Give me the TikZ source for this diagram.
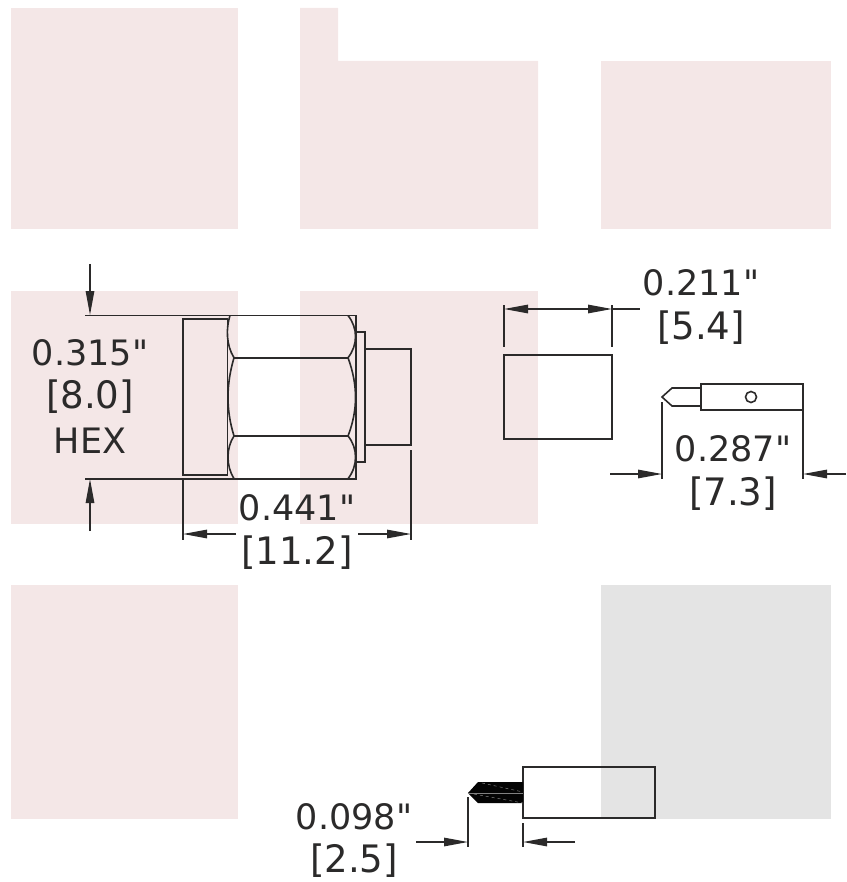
\documentclass[tikz,border=0pt]{standalone}
\usepackage{fontspec}
\setmainfont{DejaVu Sans}[Ligatures=TeXOff]
\usetikzlibrary{arrows.meta}
\definecolor{pinkbg}{HTML}{F4E7E7}
\definecolor{graybg}{HTML}{E4E4E4}
\definecolor{ink}{HTML}{2B2A2A}
\newcommand{\brk}[1]{\scalebox{1.06}[1.08]{#1}}
\tikzset{
  bgpink/.style={fill=pinkbg,draw=none},
  bggray/.style={fill=graybg,draw=none},
  part/.style={draw=ink,line width=1.6pt,line join=miter},
  extline/.style={draw=ink,line width=1.3pt},
  dimarrow/.style={draw=ink,line width=1.3pt,-{Triangle[length=24pt,width=8.5pt,fill=ink]}},
  dimtext/.style={font=\fontsize{35}{35}\selectfont,text=ink,inner sep=0pt,anchor=center}
}
\begin{document}
\begin{tikzpicture}[x=1pt,y=-1pt]
\useasboundingbox (0,0) rectangle (846,882);
% backgrounds
\fill[bgpink] (11,8) rectangle (238,229);
\fill[bgpink] (300,8) -- (338,8) -- (338,61) -- (538,61) -- (538,229) -- (300,229) -- cycle;
\fill[bgpink] (601,61) rectangle (831,229);
\fill[bgpink] (11,291) rectangle (238,524);
\fill[bgpink] (300,291) rectangle (538,524);
\fill[bgpink] (11,585) rectangle (238,819);
\fill[bggray] (601,585) rectangle (831,819);
% hex connector
\draw[part] (183,319) rectangle (227.5,475);
\draw[part] (85,315.5) -- (356,315.5) -- (356,478.7) -- (85,478.7);
\draw[part] (234,357.7) -- (348,357.7);
\draw[part] (234,436) -- (348,436);
\draw[part] (230,315.5) .. controls (226,328) and (226,345) .. (234,357.7)
  .. controls (226,385) and (226,410) .. (234,436)
  .. controls (226,448) and (226,466) .. (234,478.7);
\draw[part] (348,315.5) .. controls (358,328) and (358,345) .. (348,357.7)
  .. controls (358,385) and (358,410) .. (348,436)
  .. controls (358,448) and (358,466) .. (348,478.7);
\draw[part] (356,332) -- (365,332) -- (365,462) -- (356,462);
\draw[part] (365,349) -- (411,349) -- (411,445) -- (365,445);
% hex dimension
\coordinate (hexTopTail) at (90,264);
\coordinate (hexTopTip) at (90,315);
\coordinate (hexBotTail) at (90,531);
\coordinate (hexBotTip) at (90,479);
\draw[dimarrow] (hexTopTail) -- (hexTopTip);
\draw[dimarrow] (hexBotTail) -- (hexBotTip);
\node[dimtext] (t315) at (90,353) {0.315"};
\node[dimtext] (t80) at (90,397) {\brk{[8.0]}};
\node[dimtext] (thex) at (90,441) {HEX};
% length dimension
\coordinate (lenLa) at (183,480);
\coordinate (lenLb) at (183,540);
\coordinate (lenRa) at (411,450);
\coordinate (lenRb) at (411,540);
\draw[extline] (lenLa) -- (lenLb);
\draw[extline] (lenRa) -- (lenRb);
\coordinate (lenLtail) at (236,534);
\coordinate (lenLtip) at (183,534);
\coordinate (lenRtail) at (358,534);
\coordinate (lenRtip) at (411,534);
\draw[dimarrow] (lenLtail) -- (lenLtip);
\draw[dimarrow] (lenRtail) -- (lenRtip);
\node[dimtext] (t441) at (297,508) {0.441"};
\node[dimtext] (t112) at (297,553) {\brk{[11.2]}};
% block
\draw[part] (504,355) rectangle (612,439);
\coordinate (wLa) at (504,305);
\coordinate (wLb) at (504,347);
\coordinate (wRa) at (612,305);
\coordinate (wRb) at (612,347);
\draw[extline] (wLa) -- (wLb);
\draw[extline] (wRa) -- (wRb);
\coordinate (wTipL) at (504,309);
\coordinate (wTipR) at (612,309);
\coordinate (wEnd) at (640,309);
\draw[draw=ink,line width=1.3pt,{Triangle[length=24pt,width=8.5pt,fill=ink]}-{Triangle[length=24pt,width=8.5pt,fill=ink]}] (wTipL) -- (wTipR);
\draw[extline] (wTipR) -- (wEnd);
\node[dimtext] (t211) at (701,283) {0.211"};
\node[dimtext] (t54) at (701,328) {\brk{[5.4]}};
% pin
\draw[part] (701,384) rectangle (803,410);
\draw[part] (701,388) -- (672,388) -- (662,397) -- (672,406) -- (701,406);
\draw[part] (751,397) circle (5.5);
\coordinate (pLa) at (662,402);
\coordinate (pLb) at (662,479);
\coordinate (pRa) at (803,410);
\coordinate (pRb) at (803,479);
\draw[extline] (pLa) -- (pLb);
\draw[extline] (pRa) -- (pRb);
\coordinate (pLtail) at (610,474);
\coordinate (pLtip) at (662,474);
\coordinate (pRtail) at (846,474);
\coordinate (pRtip) at (803,474);
\draw[dimarrow] (pLtail) -- (pLtip);
\draw[dimarrow] (pRtail) -- (pRtip);
\node[dimtext] (t287) at (733,449) {0.287"};
\node[dimtext] (t73) at (733,494) {\brk{[7.3]}};
% bottom contact
\draw[part] (523,767) rectangle (655,818);
\fill[black!90!ink] (523,782) -- (478,782) -- (468,793) -- (478,803) -- (523,803) -- cycle;
\draw[draw=gray,line width=0.5pt,dashed] (482,783) -- (523,792);
\draw[draw=gray,line width=0.5pt] (468,793) -- (523,793);
\draw[draw=gray,line width=0.5pt,dashed] (468,793) -- (523,803);
\coordinate (cLa) at (468,797);
\coordinate (cLb) at (468,847);
\coordinate (cRa) at (523,823);
\coordinate (cRb) at (523,847);
\draw[extline] (cLa) -- (cLb);
\draw[extline] (cRa) -- (cRb);
\coordinate (cLtail) at (416,842);
\coordinate (cLtip) at (468,842);
\coordinate (cRtail) at (575,842);
\coordinate (cRtip) at (523,842);
\draw[dimarrow] (cLtail) -- (cLtip);
\draw[dimarrow] (cRtail) -- (cRtip);
\node[dimtext] (t098) at (354,817) {0.098"};
\node[dimtext] (t25) at (354,861) {\brk{[2.5]}};
\end{tikzpicture}
\end{document}
